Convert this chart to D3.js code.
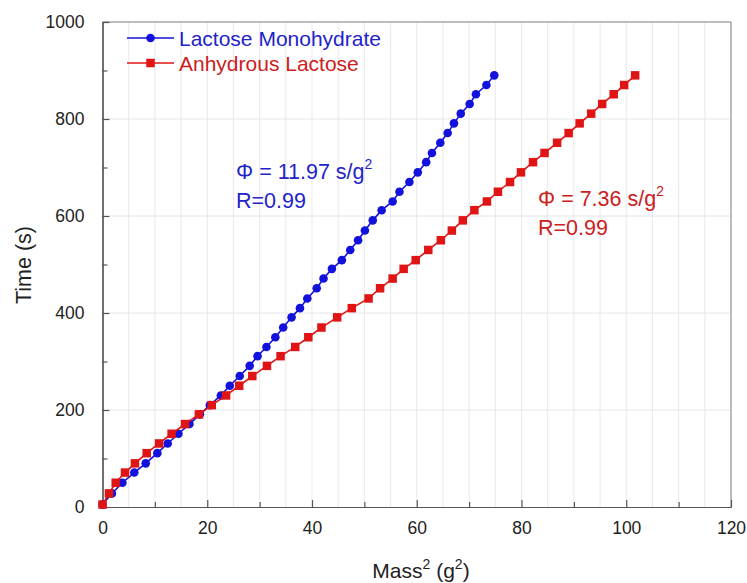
<!DOCTYPE html>
<html><head><meta charset="utf-8">
<script src="https://cdn.jsdelivr.net/npm/d3@7"></script>
<style>
body{margin:0;background:#fff}
svg{display:block}
text{font-family:"Liberation Sans",Arial,Helvetica,sans-serif}
</style>
</head><body>
<svg id="chart" width="747" height="583"></svg>
<script>
// ---- data ----
const timeSeconds = [5, 28, 50, 71, 90, 111, 131, 151, 171, 191,
  210, 230, 250, 270, 291, 311, 330, 350, 370, 391,
  410, 430, 451, 471, 491, 509, 530, 550, 570, 591,
  612, 630, 650, 670, 690, 711, 730, 751, 771, 791,
  811, 831, 851, 870, 890];
const monohydrateMass2 = [0, 1.8, 3.8, 6.07, 8.25, 10.47, 12.45, 14.5, 16.6, 18.6,
  20.5, 22.6, 24.3, 26.2, 28.1, 29.6, 31.3, 33.0, 34.5, 36.1,
  37.7, 39.1, 40.9, 42.2, 43.8, 45.7, 47.3, 48.8, 50.1, 51.6,
  53.3, 55.4, 56.7, 58.6, 60.2, 61.8, 62.9, 64.5, 65.9, 67.1,
  68.4, 70.1, 71.3, 73.3, 74.8];
const anhydrousMass2 = [0, 1.24, 2.52, 4.3, 6.2, 8.44, 10.8, 13.2, 15.76, 18.4,
  20.86, 23.6, 26.1, 28.6, 31.4, 34.0, 36.8, 39.3, 41.8, 44.8,
  47.6, 50.8, 53.0, 55.4, 57.5, 59.8, 62.2, 64.6, 66.7, 68.8,
  71.0, 73.4, 75.5, 77.8, 79.9, 82.2, 84.4, 86.8, 89.0, 91.1,
  93.3, 95.4, 97.6, 99.6, 101.7];
const seriesNames = ["Lactose Monohydrate", "Anhydrous Lactose"];
const xMajorTicks = [0, 20, 40, 60, 80, 100, 120];
const xMinorTicks = [10, 30, 50, 70, 90, 110];
const xGridValues = [5,10,15,20,25,30,35,40,45,50,55,60,65,70,75,80,85,90,95,100,105,110,115];
const yMajorTicks = [0, 200, 400, 600, 800, 1000];
const yMinorTicks = [100, 300, 500, 700, 900];
const yGridValues = [200, 400, 600, 800];
const annotMono = ["\u03A6 = 11.97 s/g", "2", "R=0.99"];
const annotAnhy = ["\u03A6 = 7.36 s/g", "2", "R=0.99"];

// ---- layout ----
const L = 102.5, R = 731, T = 22, B = 507;
const blue = "#1212dc", red = "#e01414";
const blueText = "#2323c8", redText = "#cc2020";

const svg = d3.select("#chart");
const x = d3.scaleLinear().domain([0, 120]).range([L, R]);
const y = d3.scaleLinear().domain([0, 1000]).range([B, T]);

// grid
const grid = svg.append("g");
grid.selectAll("line.vx").data(xGridValues).join("line")
  .attr("x1", d => x(d)).attr("x2", d => x(d)).attr("y1", T).attr("y2", B)
  .attr("stroke", "#e9e9e9").attr("stroke-width", 1);
grid.selectAll("line.hy").data(yGridValues).join("line")
  .attr("y1", d => y(d)).attr("y2", d => y(d)).attr("x1", L).attr("x2", R)
  .attr("stroke", "#e6e6e6").attr("stroke-width", 1);

// frame (top/right)
svg.append("line").attr("x1", L).attr("x2", R).attr("y1", T).attr("y2", T).attr("stroke", "#7a7a7a");
svg.append("line").attr("x1", R).attr("x2", R).attr("y1", T).attr("y2", B).attr("stroke", "#7a7a7a");

// axes
const xAxis = svg.append("g").attr("transform", `translate(0,${B})`)
  .call(d3.axisBottom(x).tickValues(xMajorTicks).tickSizeInner(-7).tickSizeOuter(0).tickPadding(15).tickFormat(d3.format("d")));
const xAxisMinor = svg.append("g").attr("transform", `translate(0,${B})`)
  .call(d3.axisBottom(x).tickValues(xMinorTicks).tickSizeInner(-5).tickSizeOuter(0).tickFormat(""));
const yAxis = svg.append("g").attr("transform", `translate(${L},0)`)
  .call(d3.axisLeft(y).tickValues(yMajorTicks).tickSizeInner(-7).tickSizeOuter(0).tickPadding(18).tickFormat(d3.format("d")));
const yAxisMinor = svg.append("g").attr("transform", `translate(${L},0)`)
  .call(d3.axisLeft(y).tickValues(yMinorTicks).tickSizeInner(-5).tickSizeOuter(0).tickFormat(""));
[xAxis, xAxisMinor, yAxis, yAxisMinor].forEach(g => {
  g.select(".domain").attr("stroke", "#555").attr("stroke-width", 1.2);
  g.selectAll(".tick line").attr("stroke", "#555").attr("stroke-width", 1.2);
  g.selectAll(".tick text").attr("font-size", 17.5).attr("fill", "#222")
    .attr("font-family", "'Liberation Sans', Arial, sans-serif");
});

// axis titles
svg.append("text").attr("x", 421).attr("y", 578).attr("text-anchor", "middle")
  .attr("font-size", 21).attr("fill", "#222")
  .call(t => {
    t.append("tspan").text("Mass");
    t.append("tspan").attr("font-size", 14).attr("dy", -9).text("2");
    t.append("tspan").attr("dy", 9).text(" (g");
    t.append("tspan").attr("font-size", 14).attr("dy", -9).text("2");
    t.append("tspan").attr("dy", 9).text(")");
  });
svg.append("text").attr("transform", "translate(31,265) rotate(-90)").attr("text-anchor", "middle")
  .attr("font-size", 21.5).attr("fill", "#222").text("Time (s)");

// series
const plot = svg.append("g");
const monoData = timeSeconds.map((t, i) => ({x: monohydrateMass2[i], y: t}));
const anhyData = timeSeconds.map((t, i) => ({x: anhydrousMass2[i], y: t}));
const line = d3.line().x(d => x(d.x)).y(d => y(d.y));

plot.append("path").datum(monoData).attr("d", line).attr("fill", "none")
  .attr("stroke", blue).attr("stroke-width", 1.6);
plot.selectAll("circle.m").data(monoData).join("circle")
  .attr("cx", d => x(d.x)).attr("cy", d => y(d.y)).attr("r", 4.3).attr("fill", blue);

plot.append("path").datum(anhyData).attr("d", line).attr("fill", "none")
  .attr("stroke", red).attr("stroke-width", 1.6);
const sq = 8.5;
plot.selectAll("rect.a").data(anhyData).join("rect")
  .attr("x", d => x(d.x) - sq / 2).attr("y", d => y(d.y) - sq / 2)
  .attr("width", sq).attr("height", sq).attr("fill", red);

// legend
const leg = svg.append("g");
leg.append("line").attr("x1", 127).attr("x2", 174).attr("y1", 38).attr("y2", 38).attr("stroke", blue).attr("stroke-width", 1.6);
leg.append("circle").attr("cx", 150.5).attr("cy", 38).attr("r", 4.3).attr("fill", blue);
leg.append("text").attr("x", 179).attr("y", 45.5).attr("font-size", 21).attr("fill", blueText).text(seriesNames[0]);
leg.append("line").attr("x1", 127).attr("x2", 174).attr("y1", 63).attr("y2", 63).attr("stroke", red).attr("stroke-width", 1.6);
leg.append("rect").attr("x", 150.5 - sq / 2).attr("y", 63 - sq / 2).attr("width", sq).attr("height", sq).attr("fill", red);
leg.append("text").attr("x", 179).attr("y", 70.5).attr("font-size", 21).attr("fill", redText).text(seriesNames[1]);

// annotations
function annot(xp, yp, parts, color) {
  const t = svg.append("text").attr("x", xp).attr("y", yp).attr("font-size", 21.5).attr("fill", color);
  t.append("tspan").text(parts[0]);
  t.append("tspan").attr("font-size", 14).attr("dy", -10).text(parts[1]);
  svg.append("text").attr("x", xp).attr("y", yp + 29).attr("font-size", 21.5).attr("fill", color).text(parts[2]);
}
annot(236, 179, annotMono, blueText);
annot(538, 206, annotAnhy, redText);
</script>
</body></html>
